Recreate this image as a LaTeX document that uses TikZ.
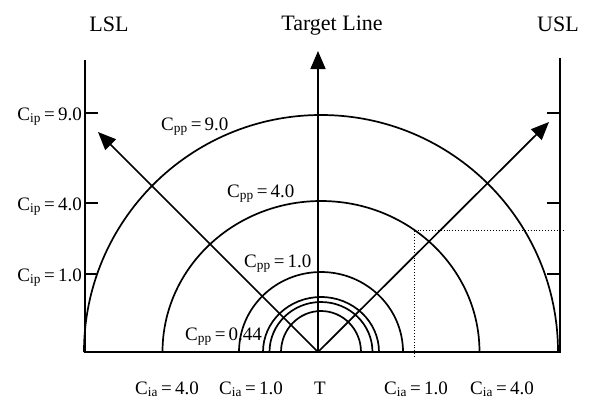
\documentclass[tikz,border=0pt]{standalone}
\usepackage{fontspec}
\setmainfont{Liberation Serif}
\usetikzlibrary{arrows.meta, positioning, calc}

\newcommand{\cidx}[2]{C\textsubscript{#1}\,=\,#2}

\begin{document}
\begin{tikzpicture}[
  x=1pt, y=-1pt,
  font=\fontsize{19}{22}\selectfont,
  head/.style={
    font=\fontsize{22}{26}\selectfont, inner sep=0pt, anchor=base
  },
  lbl/.style={
    inner sep=0pt, anchor=base west
  },
  axis/.style={
    line width=1.8pt
  },
  curve/.style={
    line width=1.7pt
  },
  guide/.style={
    line width=0.9pt, dotted
  },
  arr/.style={
    -{Triangle[length=18pt,width=15pt]}, line width=1.7pt
  }
]
\useasboundingbox (0,0) rectangle (594,400);

% Reference points
\coordinate (T) at (318,352);
\coordinate (ctr) at (321,352);
\coordinate (lslTop) at (85,60);
\coordinate (lslBot) at (85,352);
\coordinate (uslTop) at (560,58);
\coordinate (uslBot) at (560,352);
\coordinate (tgtTip) at (318,51);
\coordinate (lslTip) at (98,132);
\coordinate (uslTip) at (549,122);
\coordinate (dotC) at (414,230);
\coordinate (dotB) at (414,357);
\coordinate (dotR) at (563,230);

% Headings
\node[head] (lsl) at (109,31) {LSL};
\node[head] (target) at (332,30) {Target Line};
\node[head] (usl) at (558,31) {USL};

% Spec limits and base line
\draw[axis] (lslTop) -- (lslBot) -- (uslBot) -- (uslTop);
\foreach \yy/\val in {113/9.0, 203/4.0, 274/1.0} {
  \draw[axis] (85,\yy) -- ++(13,0);
  \draw[axis] (560,\yy) -- ++(-13,0);
  \node[lbl, anchor=base east] at (82,\yy+7) {\cidx{ip}{\val}};
}

% Cpp contours
\foreach \rx/\ry in {237/237, 158.5/151, 82/80, 58/55, 51.5/50, 40/41} {
  \draw[curve] (ctr) ++(-\rx,0)
    arc[start angle=180, end angle=360, x radius=\rx, y radius=\ry];
}

% Dotted guide
\draw[guide] (dotB) -- (dotC) -- (dotR);

% Arrows from T
\draw[arr] (T) -- (tgtTip);
\draw[arr] (T) -- (lslTip);
\draw[arr] (T) -- (uslTip);

% Cpp labels
\node[lbl] (cpp9) at (161,130) {\cidx{pp}{9.0}};
\node[lbl] (cpp4) at (227,197) {\cidx{pp}{4.0}};
\node[lbl] (cpp1) at (244,267) {\cidx{pp}{1.0}};
\node[lbl] (cpp0) at (185,340) {\cidx{pp}{0.44}};

% Cia labels
\node[lbl] (cia4l) at (135,394) {\cidx{ia}{4.0}};
\node[lbl] (cia1l) at (219,394) {\cidx{ia}{1.0}};
\node[lbl, anchor=base] (tlbl) at (320,394) {T};
\node[lbl] (cia1r) at (384,394) {\cidx{ia}{1.0}};
\node[lbl] (cia4r) at (470,394) {\cidx{ia}{4.0}};

\end{tikzpicture}
\end{document}
